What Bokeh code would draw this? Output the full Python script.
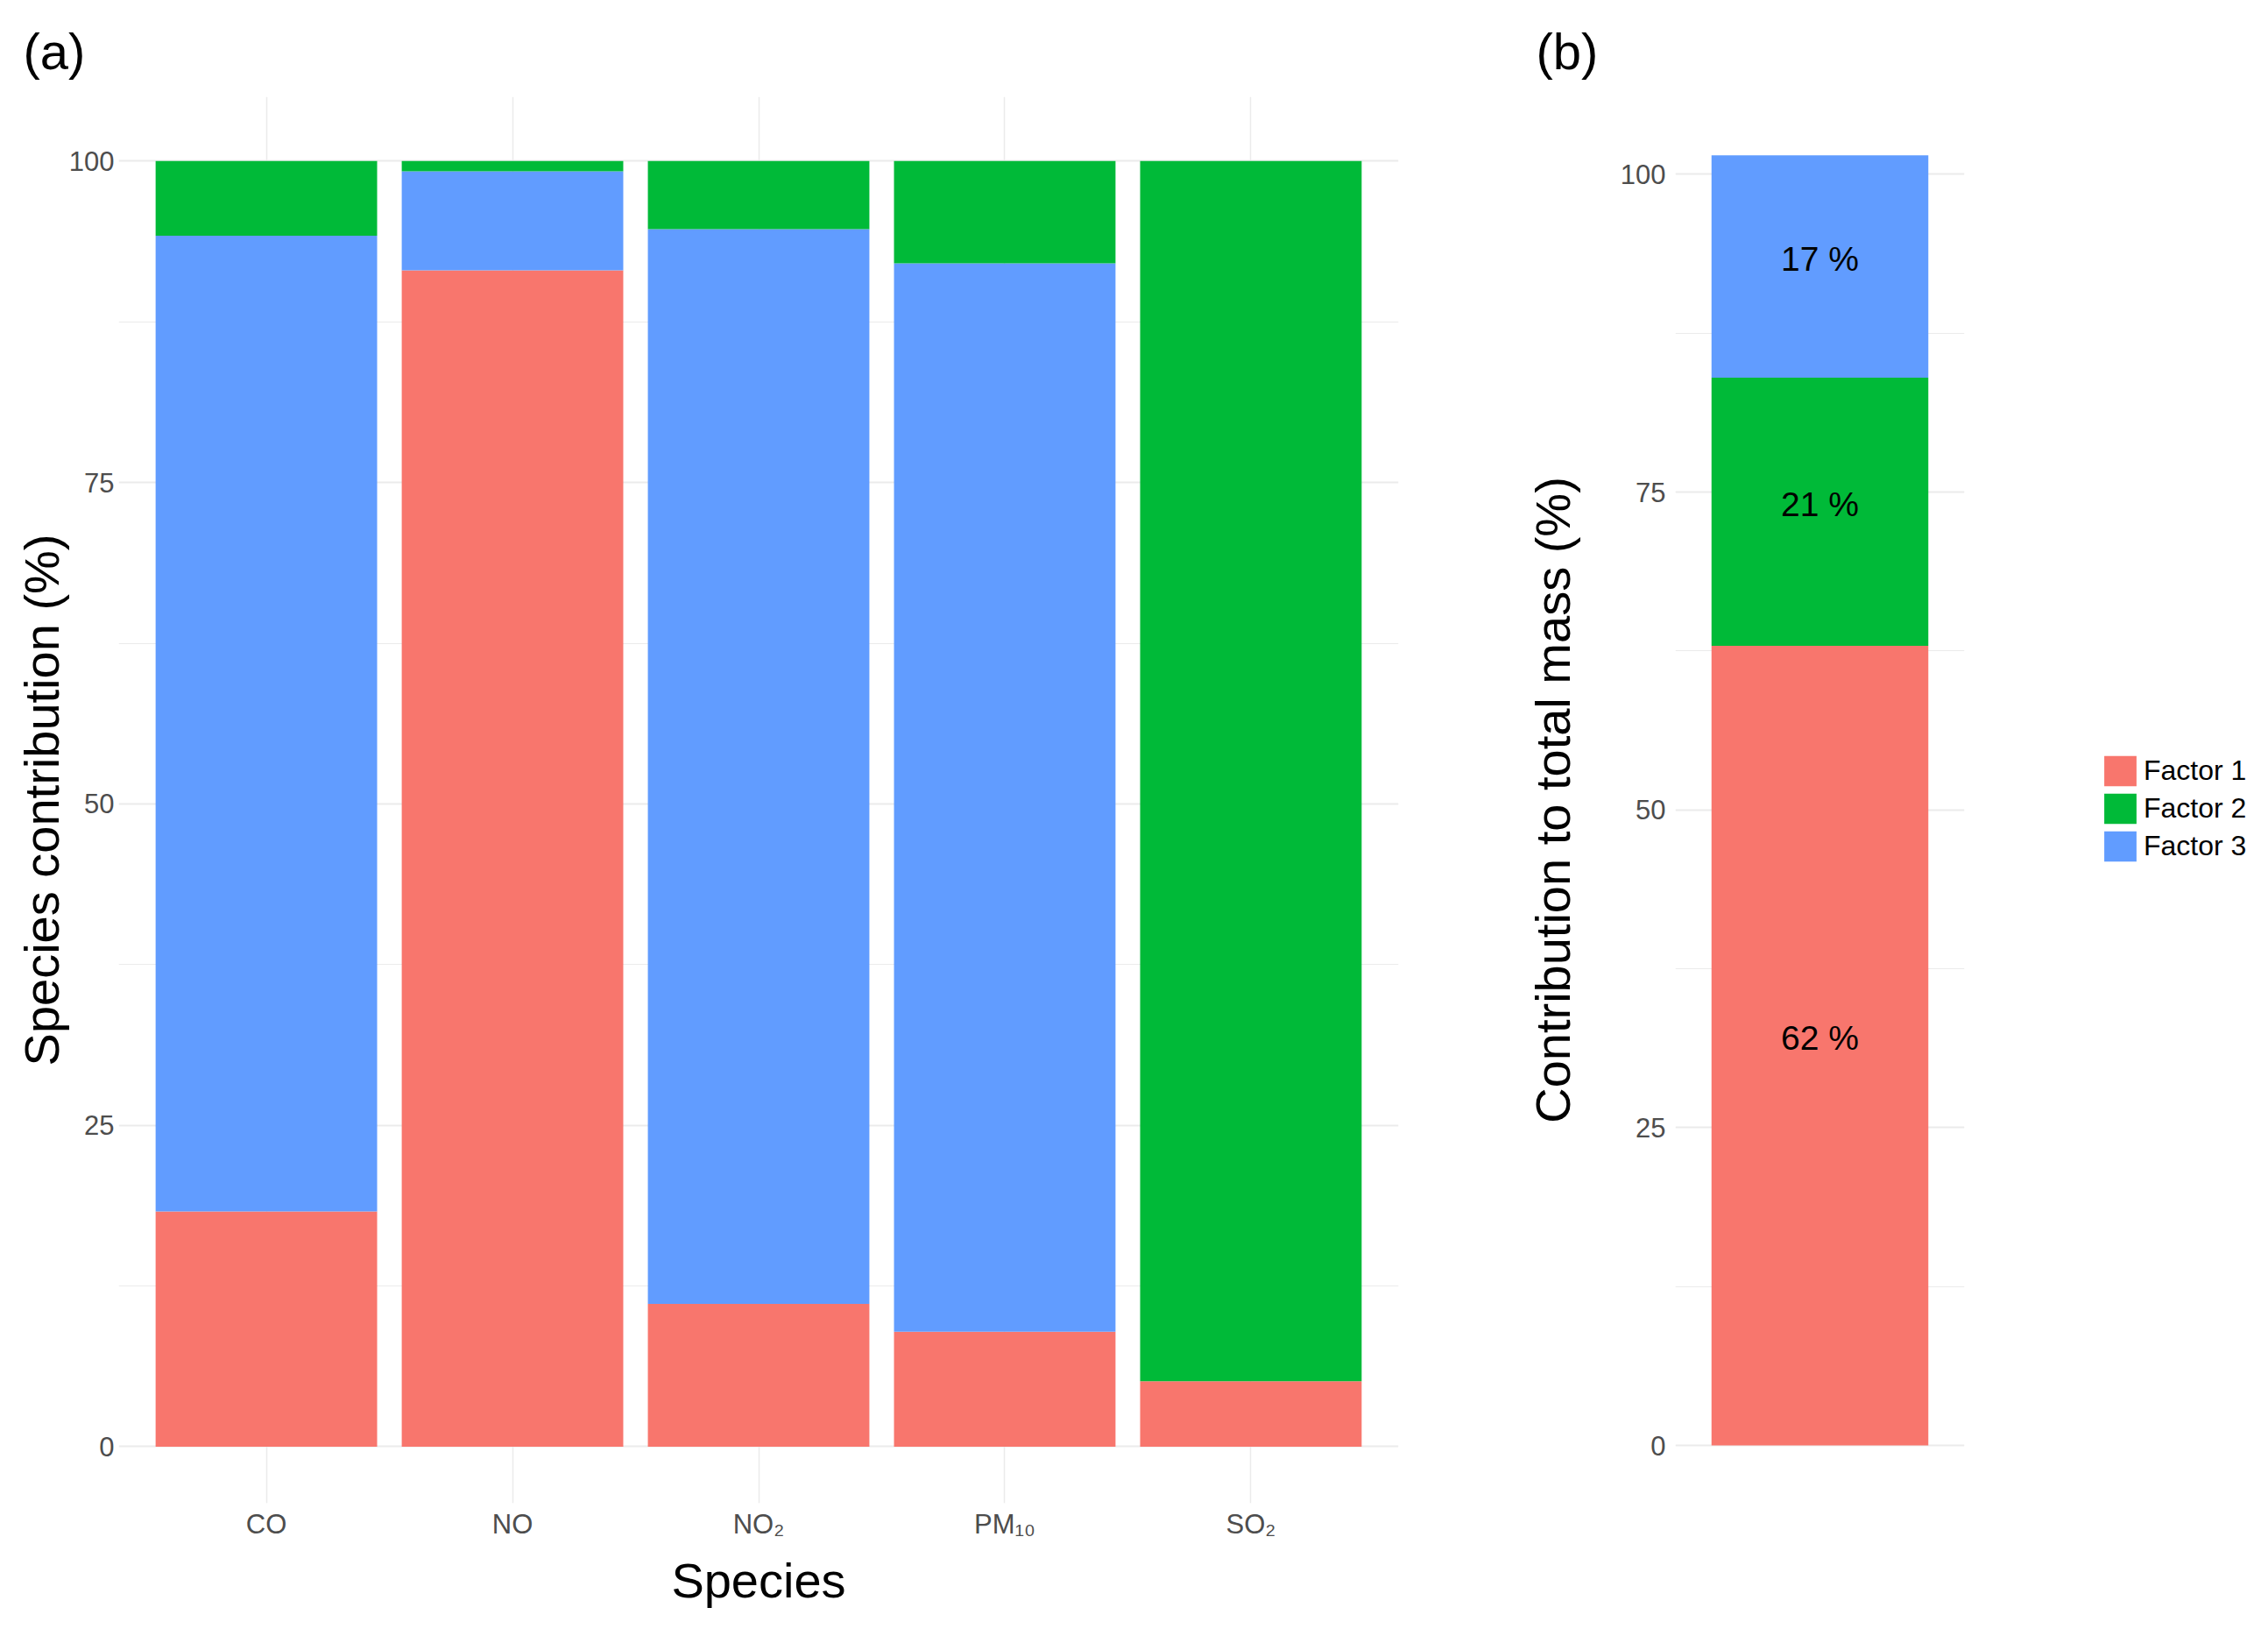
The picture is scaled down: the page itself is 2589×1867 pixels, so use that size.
from bokeh.plotting import figure
from bokeh.models import Range1d, FixedTicker, Legend, LegendItem, ColumnDataSource, Title
from bokeh.layouts import row
from bokeh.embed import file_html
from bokeh.resources import INLINE
from bokeh.core.properties import value

# ---------------- data ----------------
species = ["CO", "NO", "NO\u2082", "PM\u2081\u2080", "SO\u2082"]
f1_species = [18.3, 91.5, 11.1, 8.95, 5.1]
f3_species = [75.9, 7.7, 83.6, 83.1, 0.0]
f2_species = [5.8, 0.8, 5.3, 7.95, 94.9]

factor_names = ["Factor 1", "Factor 2", "Factor 3"]
mass_share = [62.9, 21.1, 17.5]
mass_labels = ["62 %", "21 %", "17 %"]

y_ticks = [0, 25, 50, 75, 100]
y_minor = [12.5, 37.5, 62.5, 87.5]

C1, C2, C3 = "#F8766D", "#00BA38", "#619CFF"
FONT = "Liberation Sans"
GRID = "#EBEBEB"
TICK_COL = "#4D4D4D"


def style(p):
    p.outline_line_color = None
    p.background_fill_color = "white"
    p.border_fill_color = "white"
    for ax in p.axis:
        ax.axis_line_color = None
        ax.major_tick_line_color = None
        ax.minor_tick_line_color = None
        ax.major_tick_out = 0
        ax.major_tick_in = 0
        ax.minor_tick_out = 0
        ax.minor_tick_in = 0
        ax.major_label_text_font = FONT
        ax.major_label_text_font_size = "31px"
        ax.major_label_text_color = TICK_COL
        ax.axis_label_text_font = FONT
        ax.axis_label_text_font_size = "56px"
        ax.axis_label_text_font_style = "normal"
        ax.axis_label_text_color = "black"
    p.ygrid.grid_line_color = GRID
    p.ygrid.grid_line_width = 2
    p.ygrid.minor_grid_line_color = GRID
    p.ygrid.minor_grid_line_width = 1


def panel_title(text, offset, standoff):
    return Title(text=text, align="left", offset=offset, standoff=standoff,
                 text_font=FONT, text_font_size="58px", text_font_style="normal",
                 text_color="black")


# ---------------- panel (a) ----------------
xs = list(range(1, len(species) + 1))
src_a = ColumnDataSource(dict(x=xs, f1=f1_species, f3=f3_species, f2=f2_species))

pa = figure(frame_width=1461, frame_height=1605,
            min_border_left=135, min_border_right=104,
            min_border_top=110, min_border_bottom=130,
            x_range=Range1d(0.4, len(species) + 0.6), y_range=Range1d(-4.4, 105),
            output_backend="svg", toolbar_location=None, tools="")
pa.title = panel_title("(a)", -109, 40)
pa.vbar_stack(["f1", "f3", "f2"], x="x", width=0.9, source=src_a,
              fill_color=[C1, C3, C2], line_color=None)
pa.xaxis.ticker = FixedTicker(ticks=xs)
pa.xaxis.major_label_overrides = {x: s for x, s in zip(xs, species)}
pa.yaxis.ticker = FixedTicker(ticks=y_ticks, minor_ticks=y_minor)
pa.xaxis.axis_label = "Species"
pa.yaxis.axis_label = "Species contribution (%)"
style(pa)
pa.xgrid.grid_line_color = GRID
pa.xgrid.grid_line_width = 1.5
pa.xaxis.major_label_standoff = 6
pa.xaxis.axis_label_standoff = 12
pa.yaxis.major_label_standoff = 5
pa.yaxis.axis_label_standoff = -3

# ---------------- panel (b) ----------------
bottoms, tops = [], []
acc = 0.0
for v in mass_share:
    bottoms.append(acc)
    acc += v
    tops.append(acc)
mids = [(b + t) / 2 for b, t in zip(bottoms, tops)]

pb = figure(frame_width=330, frame_height=1605,
            min_border_left=212, min_border_right=339,
            min_border_top=110, min_border_bottom=130,
            x_range=Range1d(0.4, 1.6), y_range=Range1d(-4.55, 106.1),
            output_backend="svg", toolbar_location=None, tools="")
pb.title = panel_title("(b)", -159, 40)
renderers = []
for name, b, t, c in zip(factor_names, bottoms, tops, [C1, C2, C3]):
    r = pb.vbar(x=[1], bottom=[b], top=[t], width=0.9, fill_color=c, line_color=None)
    renderers.append((name, r))
pb.text(x=[1] * len(mids), y=mids, text=mass_labels, text_align="center",
        text_baseline="middle", text_font=value(FONT), text_font_size="39px",
        text_color="black", y_offset=-9)
pb.yaxis.ticker = FixedTicker(ticks=y_ticks, minor_ticks=y_minor)
pb.yaxis.axis_label = "Contribution to total mass (%)"
style(pb)
pb.xaxis.visible = False
pb.xgrid.visible = False
pb.yaxis.major_label_standoff = 11
pb.yaxis.axis_label_standoff = 43

legend = Legend(items=[LegendItem(label=n, renderers=[r]) for n, r in renderers],
                location=(155, 728), orientation="vertical",
                glyph_width=46, glyph_height=43, spacing=0, padding=0, margin=0,
                label_standoff=4, label_text_font=FONT, label_text_font_size="32px",
                label_text_color="black", border_line_color=None,
                background_fill_alpha=0)
pb.add_layout(legend, "right")

layout = row(pa, pb)
open("out.html", "w").write(file_html(layout, INLINE))
